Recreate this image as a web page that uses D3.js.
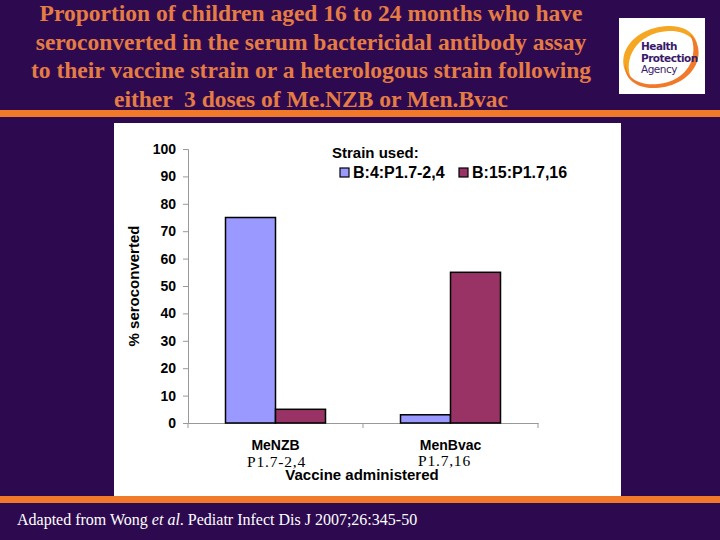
<!DOCTYPE html>
<html>
<head>
<meta charset="utf-8">
<script src="https://cdn.jsdelivr.net/npm/d3@7"></script>
<style>
  body { margin: 0; background: #2d0a50; }
  svg { display: block; }
</style>
</head>
<body>
<svg id="chart" width="720" height="540"></svg>
<script>
// chart data
const vaccines = ["MeNZB", "MenBvac"];
const vaccineStrains = ["P1.7-2,4", "P1.7,16"];
const strains = ["B:4:P1.7-2,4", "B:15:P1.7,16"];
const seroconverted = [
  [75, 5],   // MeNZB
  [3, 55]    // MenBvac
];
const yTicks = [0, 10, 20, 30, 40, 50, 60, 70, 80, 90, 100];
const titleLines = [
  "Proportion of children aged 16 to 24 months who have",
  "seroconverted in the serum bactericidal antibody assay",
  "to their vaccine strain or a heterologous strain following",
  "either  3 doses of Me.NZB or Men.Bvac"
];
const colors = ["#9999ff", "#993366"];

const svg = d3.select("#chart");
const orange = "#f07a2a";

svg.append("rect").attr("width", 720).attr("height", 540).attr("fill", "#2d0a50");

// title
svg.selectAll("text.title")
  .data(titleLines)
  .enter()
  .append("text")
  .attr("class", "title")
  .attr("x", 311)
  .attr("y", (d, i) => 21 + i * 28.6)
  .attr("text-anchor", "middle")
  .attr("fill", "#e47c44")
  .attr("xml:space", "preserve")
  .style("white-space", "pre")
  .style("font-family", "'Liberation Serif', 'Times New Roman', serif")
  .style("font-size", "23.5px")
  .style("font-weight", "bold")
  .text(d => d);

// orange rules
svg.append("rect").attr("x", 0).attr("y", 110).attr("width", 720).attr("height", 7).attr("fill", orange);
svg.append("rect").attr("x", 0).attr("y", 496).attr("width", 720).attr("height", 7).attr("fill", orange);

// logo
const logo = svg.append("g");
logo.append("rect").attr("x", 619).attr("y", 18).attr("width", 86).attr("height", 76).attr("fill", "#fff");
logo.append("path")
  .attr("d", "M632,80 C612,62 628,28 668,26 C690,25 702,40 696,56 C700,40 686,30 668,31 C636,33 622,60 632,80 Z")
  .attr("fill", "#f5a623");
logo.append("path")
  .attr("d", "M690,34 C710,52 694,86 656,88 C634,89 622,76 626,62 C624,78 640,86 658,84 C688,81 700,56 690,34 Z")
  .attr("fill", "#f07a2a");
logo.selectAll("text.logo")
  .data(["Health", "Protection", "Agency"])
  .enter()
  .append("text")
  .attr("x", 641)
  .attr("y", (d, i) => 50 + i * 11.5)
  .attr("fill", "#3a1a6a")
  .style("font-family", "'DejaVu Sans', Arial, sans-serif")
  .style("font-size", "10.5px")
  .style("font-weight", (d, i) => i < 2 ? "bold" : "normal")
  .style("letter-spacing", "-0.5px")
  .text(d => d);

// white chart panel
svg.append("rect").attr("x", 114).attr("y", 123).attr("width", 507).attr("height", 373).attr("fill", "#fff");

// scales
const x0 = d3.scaleBand().domain(vaccines).range([188, 538]).paddingInner(0).paddingOuter(0);
const x1 = d3.scaleBand().domain(strains).range([0, 100]);
const y = d3.scaleLinear().domain([0, 100]).range([423, 149]);

// y axis
const yAxis = svg.append("g")
  .attr("transform", "translate(188,0)")
  .call(d3.axisLeft(y).tickValues(yTicks).tickSize(5).tickPadding(7));
yAxis.select(".domain").attr("stroke", "#999");
yAxis.selectAll(".tick line").attr("stroke", "#999");
yAxis.selectAll("text")
  .attr("fill", "#000")
  .style("font-family", "'Liberation Sans', Arial, sans-serif")
  .style("font-size", "14px")
  .style("font-weight", "bold");

// x axis
const xAxis = svg.append("g")
  .attr("transform", "translate(0,423)")
  .call(d3.axisBottom(x0).tickSize(0).tickFormat(""));
xAxis.select(".domain").attr("stroke", "#999");
xAxis.selectAll(".tick").remove();
svg.selectAll("line.sep")
  .data([188, 363, 538])
  .enter()
  .append("line")
  .attr("x1", d => d).attr("x2", d => d)
  .attr("y1", 423).attr("y2", 428)
  .attr("stroke", "#999");

// bars
const groups = svg.selectAll("g.group")
  .data(vaccines)
  .enter()
  .append("g")
  .attr("transform", d => `translate(${x0(d) + (x0.bandwidth() - 100) / 2},0)`);

groups.selectAll("rect")
  .data((d, i) => seroconverted[i].map((v, j) => ({ strain: strains[j], value: v, j })))
  .enter()
  .append("rect")
  .attr("x", d => x1(d.strain))
  .attr("y", d => y(d.value))
  .attr("width", x1.bandwidth())
  .attr("height", d => y(0) - y(d.value))
  .attr("fill", d => colors[d.j])
  .attr("stroke", "#000")
  .attr("stroke-width", 1.5);

// category labels
svg.selectAll("text.cat")
  .data(vaccines)
  .enter()
  .append("text")
  .attr("x", d => x0(d) + x0.bandwidth() / 2)
  .attr("y", 450)
  .attr("text-anchor", "middle")
  .style("font-family", "'Liberation Sans', Arial, sans-serif")
  .style("font-size", "14px")
  .style("font-weight", "bold")
  .text(d => d);

svg.selectAll("text.strain")
  .data(vaccineStrains)
  .enter()
  .append("text")
  .attr("x", (d, i) => x0(vaccines[i]) + x0.bandwidth() / 2 + (i === 0 ? 1 : -6))
  .attr("y", (d, i) => i === 0 ? 467 : 466)
  .attr("text-anchor", "middle")
  .style("font-family", "'Liberation Serif', 'Times New Roman', serif")
  .style("font-size", "15.5px")
  .style("letter-spacing", "0.8px")
  .text(d => d);

svg.append("text")
  .attr("x", 362)
  .attr("y", 480)
  .attr("text-anchor", "middle")
  .style("font-family", "'Liberation Sans', Arial, sans-serif")
  .style("font-size", "15px")
  .style("font-weight", "bold")
  .text("Vaccine administered");

svg.append("text")
  .attr("transform", "translate(139,286) rotate(-90)")
  .attr("text-anchor", "middle")
  .style("font-family", "'Liberation Sans', Arial, sans-serif")
  .style("font-size", "15px")
  .style("font-weight", "bold")
  .text("% seroconverted");

// legend
svg.append("text")
  .attr("x", 332)
  .attr("y", 158)
  .style("font-family", "'Liberation Sans', Arial, sans-serif")
  .style("font-size", "15px")
  .style("font-weight", "bold")
  .text("Strain used:");

const legend = svg.selectAll("g.legend")
  .data(strains)
  .enter()
  .append("g")
  .attr("transform", (d, i) => `translate(${340 + i * 119},168)`);
legend.append("rect")
  .attr("width", 9).attr("height", 9)
  .attr("fill", (d, i) => colors[i])
  .attr("stroke", "#000")
  .attr("stroke-width", 1.2);
legend.append("text")
  .attr("x", 13)
  .attr("y", 10)
  .style("font-family", "'Liberation Sans', Arial, sans-serif")
  .style("font-size", "16px")
  .style("font-weight", "bold")
  .text(d => d);

// footer
const foot = svg.append("text")
  .attr("x", 17)
  .attr("y", 525)
  .attr("fill", "#fff")
  .style("font-family", "'Liberation Serif', 'Times New Roman', serif")
  .style("font-size", "16px");
foot.append("tspan").text("Adapted from Wong ");
foot.append("tspan").style("font-style", "italic").text("et al");
foot.append("tspan").text(". Pediatr Infect Dis J 2007;26:345-50");
</script>
</body>
</html>
